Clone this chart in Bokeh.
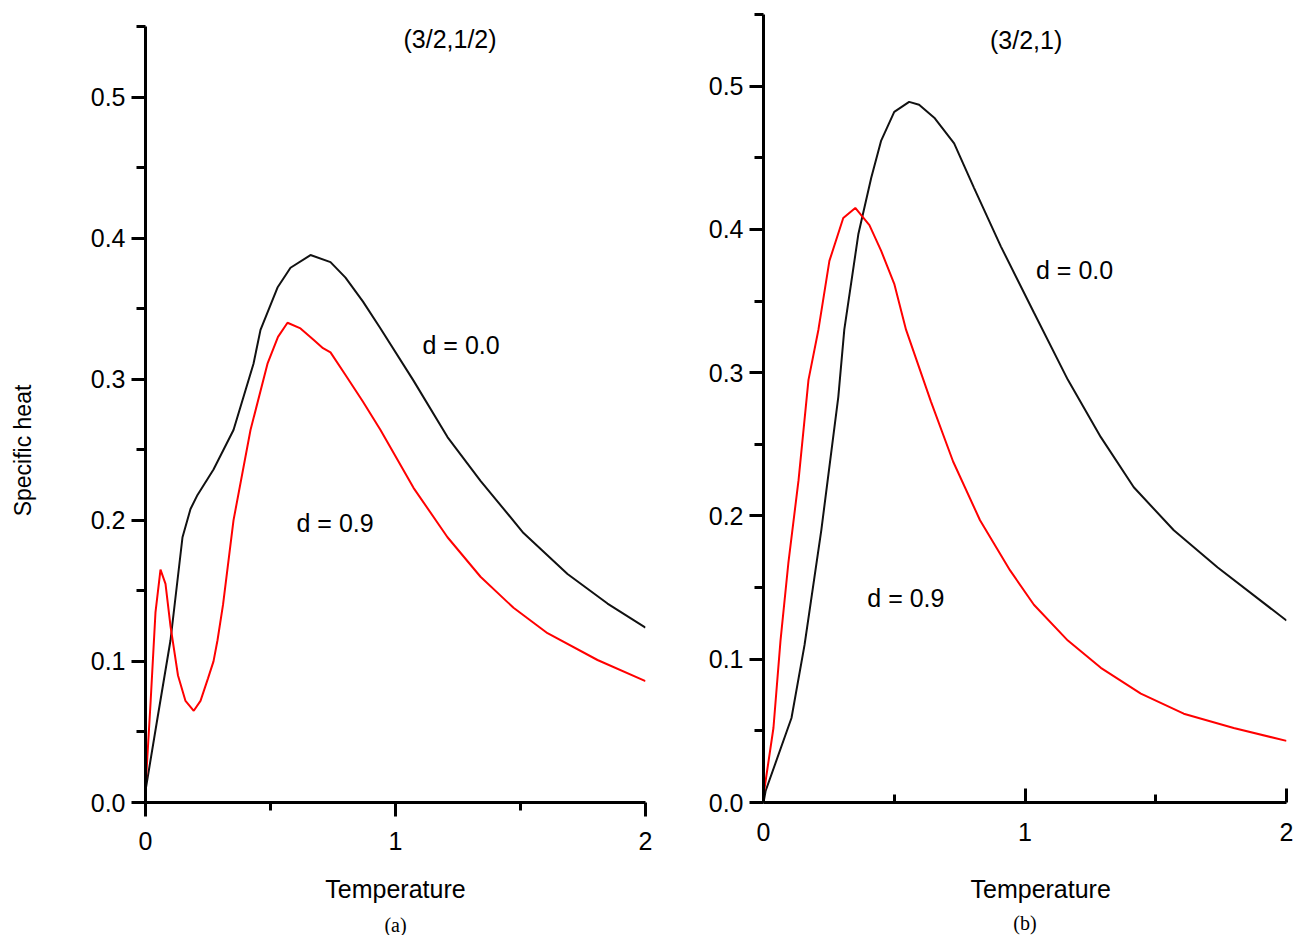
import math
from bokeh.plotting import figure
from bokeh.models import Range1d, FixedTicker, PrintfTickFormatter, Label, Title
from bokeh.layouts import row
from bokeh.embed import file_html
from bokeh.resources import INLINE

# ---- data ----
# panel (a): (3/2,1/2)
a_d00_T = [0.0, 0.05, 0.1, 0.148, 0.18, 0.208, 0.272, 0.352, 0.432, 0.46, 0.528, 0.58, 0.66,
           0.74, 0.8, 0.87, 0.94, 1.072, 1.208, 1.34, 1.512, 1.688, 1.848, 2.0]
a_d00_C = [0.0085, 0.062, 0.115, 0.188, 0.208, 0.218, 0.236, 0.264, 0.311, 0.335, 0.365, 0.379, 0.388,
           0.383, 0.372, 0.355, 0.336, 0.299, 0.259, 0.228, 0.191, 0.162, 0.141, 0.124]
a_d09_T = [0.0, 0.02, 0.04, 0.06, 0.08, 0.1, 0.13, 0.16, 0.193, 0.22, 0.25, 0.272, 0.288, 0.31, 0.352,
           0.42, 0.488, 0.53, 0.568, 0.62, 0.672, 0.71, 0.74, 0.8, 0.87, 0.94, 1.072, 1.208, 1.34,
           1.472, 1.608, 1.808, 2.0]
a_d09_C = [0.01, 0.07, 0.135, 0.165, 0.155, 0.125, 0.09, 0.072, 0.065, 0.072, 0.088, 0.1, 0.115, 0.14, 0.2,
           0.264, 0.311, 0.33, 0.34, 0.336, 0.328, 0.322, 0.319, 0.303, 0.284, 0.264, 0.223, 0.188, 0.16,
           0.138, 0.12, 0.101, 0.086]

# panel (b): (3/2,1)
b_d00_T = [0.0, 0.008, 0.107, 0.157, 0.221, 0.286, 0.309, 0.363, 0.412, 0.45, 0.5, 0.557, 0.595, 0.653,
           0.729, 0.805, 0.908, 1.034, 1.164, 1.29, 1.416, 1.569, 1.737, 2.0]
b_d00_C = [0.0, 0.008, 0.059, 0.11, 0.19, 0.283, 0.33, 0.397, 0.436, 0.462, 0.482, 0.489, 0.487, 0.478,
           0.46, 0.429, 0.388, 0.342, 0.295, 0.255, 0.22, 0.19, 0.164, 0.127]
b_d09_T = [0.0, 0.038, 0.065, 0.095, 0.134, 0.172, 0.21, 0.252, 0.305, 0.351, 0.405, 0.45, 0.5, 0.545,
           0.64, 0.725, 0.828, 0.943, 1.034, 1.164, 1.29, 1.443, 1.607, 1.798, 2.0]
b_d09_C = [0.005, 0.052, 0.113, 0.167, 0.225, 0.295, 0.33, 0.378, 0.408, 0.415, 0.403, 0.385, 0.362, 0.33,
           0.28, 0.238, 0.197, 0.162, 0.138, 0.113, 0.094, 0.076, 0.062, 0.052, 0.043]

x_ticks = [0, 1, 2]
x_minor = [0.5, 1.5]
y_ticks = [0.0, 0.1, 0.2, 0.3, 0.4, 0.5]
y_minor = [0.05, 0.15, 0.25, 0.35, 0.45, 0.55]

FONT = "Liberation Sans"
SERIF = "Liberation Serif"
FS = "25px"
TOP, FRAME_H, BOTTOM = 14, 788, 133


def make_panel(frame_w, y_top, left, right, x_tick_in):
    p = figure(output_backend="svg", toolbar_location=None,
               frame_width=frame_w, frame_height=FRAME_H,
               min_border_left=left, min_border_right=right,
               min_border_top=TOP, min_border_bottom=BOTTOM,
               x_range=Range1d(0, 2), y_range=Range1d(0, y_top))
    p.grid.visible = False
    p.outline_line_color = None
    p.background_fill_color = "white"
    p.border_fill_color = "white"
    xa = p.xaxis[0]
    xa.ticker = FixedTicker(ticks=x_ticks, minor_ticks=x_minor)
    xa.axis_line_width = 3
    xa.major_tick_line_width = 3
    xa.minor_tick_line_width = 3
    if x_tick_in:
        xa.major_tick_in = 14
        xa.major_tick_out = 0
        xa.minor_tick_in = 8
        xa.minor_tick_out = 0
        xa.major_label_standoff = 20
    else:
        xa.major_tick_in = 0
        xa.major_tick_out = 14
        xa.minor_tick_in = 0
        xa.minor_tick_out = 8
        xa.major_label_standoff = 15
    xa.major_label_text_font = FONT
    xa.major_label_text_font_size = FS
    xa.major_label_text_color = "black"
    ya = p.yaxis[0]
    ya.ticker = FixedTicker(ticks=y_ticks, minor_ticks=y_minor)
    ya.formatter = PrintfTickFormatter(format="%.1f")
    ya.bounds = (0, 0.55)
    ya.axis_line_width = 3
    ya.major_tick_line_width = 3
    ya.minor_tick_line_width = 3
    ya.major_tick_in = 0
    ya.major_tick_out = 14
    ya.minor_tick_in = 0
    ya.minor_tick_out = 9
    ya.major_label_standoff = 6
    ya.major_label_text_font = FONT
    ya.major_label_text_font_size = FS
    ya.major_label_text_color = "black"
    return p


def add_label(p, x, y, text):
    p.add_layout(Label(x=x, y=y, text=text, text_font=FONT, text_font_size=FS,
                       text_align="left", text_baseline="middle", text_color="black"))


def add_title(p, side, text, align="center", offset=0, standoff=10, font=FONT, size=FS,
              valign="bottom"):
    p.add_layout(Title(text=text, align=align, offset=offset, standoff=standoff,
                       vertical_align=valign,
                       text_font=font, text_font_size=size, text_font_style="normal",
                       text_color="black"), side)


# ---- y-axis caption strip ----
ps = figure(output_backend="svg", toolbar_location=None,
            frame_width=40, frame_height=FRAME_H,
            min_border_left=0, min_border_right=0,
            min_border_top=TOP, min_border_bottom=BOTTOM,
            x_range=Range1d(0, 40), y_range=Range1d(0, FRAME_H),
            x_axis_type=None, y_axis_type=None)
ps.grid.visible = False
ps.outline_line_color = None
ps.add_layout(Label(x=22, y=352, text="Specific heat", text_font=FONT, text_font_size="23px",
                    text_align="center", text_baseline="middle", text_color="black",
                    angle=math.pi / 2))

# ---- panel (a) ----
pa = make_panel(500, 0.5585, 105, 36, x_tick_in=False)
pa.line(a_d00_T, a_d00_C, line_color="#111111", line_width=2)
pa.line(a_d09_T, a_d09_C, line_color="#ff0000", line_width=2)
add_label(pa, 1.032, 0.541, "(3/2,1/2)")
add_label(pa, 1.108, 0.324, "d = 0.0")
add_label(pa, 0.604, 0.198, "d = 0.9")
add_title(pa, "below", "Temperature", standoff=41)
add_title(pa, "below", "(a)", standoff=-23, font=SERIF, size="20px")

# ---- panel (b) ----
pb = make_panel(523, 0.55, 82, 8, x_tick_in=True)
pb.line(b_d00_T, b_d00_C, line_color="#111111", line_width=2)
pb.line(b_d09_T, b_d09_C, line_color="#ff0000", line_width=2)
add_label(pb, 0.866, 0.532, "(3/2,1)")
add_label(pb, 1.042, 0.3715, "d = 0.0")
add_label(pb, 0.397, 0.143, "d = 0.9")
add_title(pb, "below", "Temperature", align="left", offset=207, standoff=59)
add_title(pb, "below", "(b)", standoff=-41, font=SERIF, size="20px", valign="top")

layout = row(ps, pa, pb)
open("out.html", "w").write(file_html(layout, INLINE))
